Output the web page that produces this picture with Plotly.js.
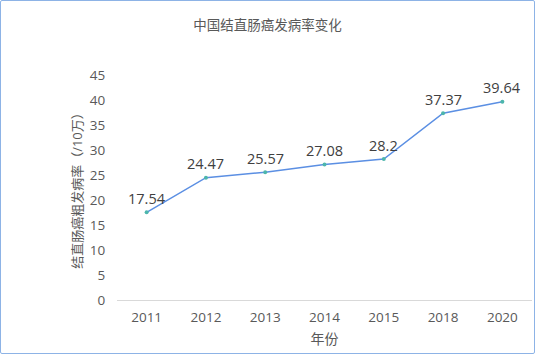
<!DOCTYPE html>
<html>
<head>
<meta charset="utf-8">
<script src="https://cdn.plot.ly/plotly-3.0.1.min.js"></script>
<style>
html,body{margin:0;padding:0;background:#fff;}
#wrap{position:relative;width:535px;height:354px;}
#chart{width:535px;height:354px;}
#frame{position:absolute;left:0;top:0;width:533px;height:352px;border:1px solid #8DB3E6;border-radius:2px;pointer-events:none;}
</style>
</head>
<body>
<div id="wrap"><div id="chart"></div><div id="frame"></div></div>
<script>
const years = ["2011","2012","2013","2014","2015","2018","2020"];
const rates = [17.54, 24.47, 25.57, 27.08, 28.2, 37.37, 39.64];
const rateLabels = ["17.54","24.47","25.57","27.08","28.2","37.37","39.64"];

const font = '"Open Sans","Noto Sans CJK SC",sans-serif';

const labelAnnotations = years.map((yr, i) => ({
  x: i, y: rates[i], xref: 'x', yref: 'y',
  text: rateLabels[i], showarrow: false,
  yanchor: 'middle', yshift: 14,
  font: {family: font, size: 14.5, color: '#404040'}
}));

Plotly.newPlot('chart', [{
  type: 'scatter',
  mode: 'lines+markers',
  x: years,
  y: rates,
  line: {color: '#5B8FE3', width: 1.5},
  marker: {color: '#4DB6AC', size: 4},
  cliponaxis: false,
  hoverinfo: 'x+y'
}], {
  width: 535, height: 354,
  margin: {l: 117, r: 3, t: 75, b: 54},
  paper_bgcolor: '#fff', plot_bgcolor: '#fff',
  showlegend: false,
  font: {family: font, color: '#595959', size: 13},
  annotations: labelAnnotations,
  title: {text: '中国结直肠癌发病率变化', x: 0.5, xanchor: 'center', y: 0.93, yanchor: 'middle',
          font: {family: font, size: 13.5, color: '#595959'}},
  xaxis: {
    type: 'category',
    range: [-0.5, 6.5],
    showgrid: false, zeroline: false,
    showline: true, linecolor: '#D9D9D9', linewidth: 1,
    ticks: 'outside', ticklen: 5, tickcolor: 'rgba(0,0,0,0)',
    tickfont: {family: font, size: 13.5, color: '#595959'},
    title: {text: '年份', font: {family: font, size: 14, color: '#595959'}, standoff: 8}
  },
  yaxis: {
    range: [0, 45],
    dtick: 5,
    showgrid: false, zeroline: false, showline: false,
    ticks: 'outside', ticklen: 8, tickcolor: 'rgba(0,0,0,0)',
    tickfont: {family: font, size: 13.5, color: '#595959'},
    title: {text: '结直肠癌粗发病率（/10万）', font: {family: font, size: 13, color: '#595959'}, standoff: 4}
  }
}, {displayModeBar: false, staticPlot: true});
</script>
</body>
</html>
